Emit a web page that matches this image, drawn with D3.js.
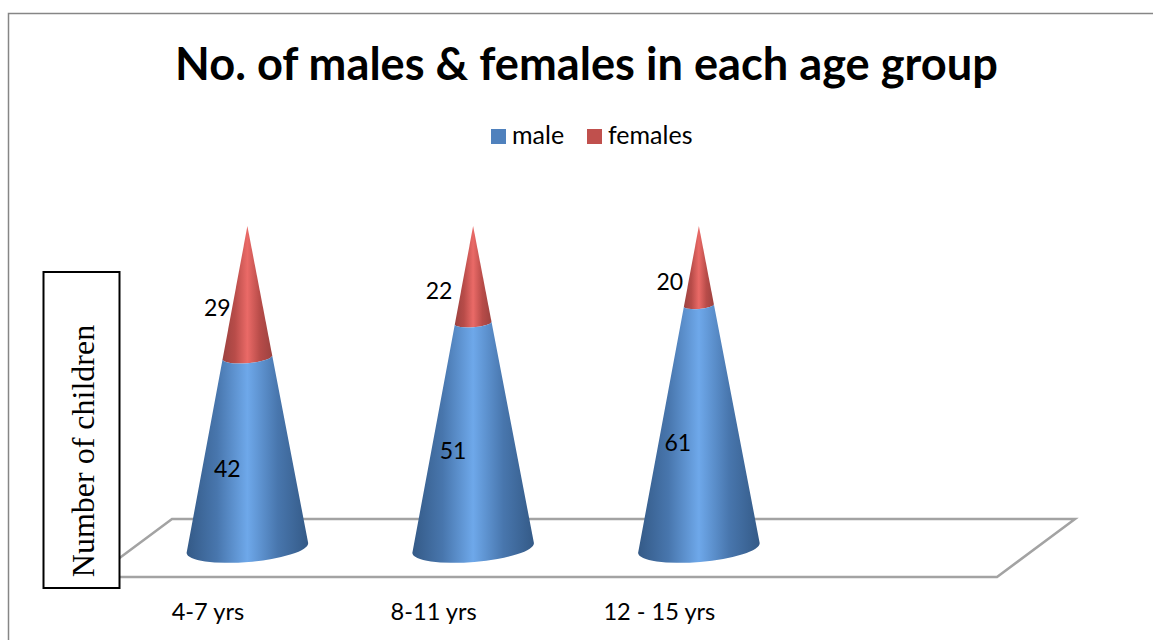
<!DOCTYPE html>
<html><head><meta charset="utf-8">
<script src="https://cdn.jsdelivr.net/npm/d3@7/dist/d3.min.js"></script>
<style>html,body{margin:0;padding:0;background:#fff}svg{display:block}text{font-family:Lato,"Open Sans",sans-serif;fill:#000}</style>
</head><body><div id="chart"></div>
<script>
const titleText = "No. of males & females in each age group";
const yAxisTitle = "Number of children";
const categories = ["4-7 yrs", "8-11 yrs", "12 - 15 yrs", ""];
const maleValues = [42, 51, 61];
const femaleValues = [29, 22, 20];
const seriesNames = ["male", "females"];
const seriesColors = ["#4f81bd", "#c0504d"];
// hand-placed label nudges (px from segment centre) as in the reference
const maleLabelNudge = [[-20, 16], [-20, 15], [-21, 16]];
const femaleLabelNudge = [[-30, 16], [-34, 16], [-29, 16]];

const W = 1153, H = 640, depth = 78, floorH = 58;
const floorFrontY = 577, floorBackY = floorFrontY - floorH, floorLeft = 94, floorRight = 997;
const svg = d3.select("#chart").append("svg").attr("width", W).attr("height", H);
const defs = svg.append("defs");

function shade(id, dark, mid, light) {
  const g = defs.append("linearGradient").attr("id", id).attr("x1", 0).attr("x2", 1).attr("y1", 0).attr("y2", 0);
  [[0, dark], [0.25, mid], [0.5, light], [0.75, mid], [1, dark]].forEach(s =>
    g.append("stop").attr("offset", s[0]).attr("stop-color", s[1]));
}
shade("maleShade", "#345a87", "#4876ad", "#6ea8ea");
shade("femaleShade", "#9c4240", "#b84c49", "#ea6a67");

// frame
svg.append("path").attr("d", `M8.5,${H}V13.5H${W}`).attr("fill", "none").attr("stroke", "#868686").attr("stroke-width", 1.5);

// title + legend
svg.append("text").attr("x", 586.5).attr("y", 80).attr("text-anchor", "middle")
  .attr("font-size", 45.2).attr("font-weight", 700).text(titleText);
const legendX = [491, 587];
seriesNames.forEach((n, i) => {
  svg.append("rect").attr("x", legendX[i]).attr("y", 129).attr("width", 15).attr("height", 15).attr("fill", seriesColors[i]);
  svg.append("text").attr("x", legendX[i] + 21).attr("y", 144).attr("font-size", 25).text(n);
});

// scales
const x = d3.scaleBand().domain(categories).range([floorLeft, floorRight]);
const y = d3.scaleLinear().domain([0, 100]).range([548, 226]);
const baseR = 61, baseRy = 14, tilt = -4.7;

// floor
svg.append("path")
  .attr("d", `M${floorLeft},${floorFrontY}H${floorRight}L${floorRight + depth},${floorBackY}H${floorLeft + depth}Z`)
  .attr("fill", "#fff").attr("stroke", "#a3a3a3").attr("stroke-width", 2.5).attr("stroke-linejoin", "miter");

// cones
const rad = tilt * Math.PI / 180;
function segment(cx, p0, p1) {
  const pt = (p, s) => {
    const r = baseR * (1 - p / 100);
    return [cx + s * r * Math.cos(rad), y(p) + s * r * Math.sin(rad)];
  };
  const arc = (p, to, sweep) => {
    const k = 1 - p / 100;
    const e = pt(p, to);
    return `A${baseR * k},${baseRy * k} ${tilt} 0 ${sweep} ${e[0]},${e[1]}`;
  };
  const a = pt(p0, -1), d = pt(p1, -1), c = pt(p1, 1);
  let path = `M${a}` + arc(p0, 1, 0) + `L${c}`;
  path += p1 >= 100 ? `L${d}` : arc(p1, -1, 1);
  return path + "Z";
}
const rows = categories.slice(0, maleValues.length).map((c, i) => {
  const total = maleValues[i] + femaleValues[i];
  return { c, i, male: maleValues[i], female: femaleValues[i], split: maleValues[i] / total * 100 };
});
const coneX = c => x(c) + x.bandwidth() / 2 + depth / 2 + 1.5;
const cone = svg.selectAll("g.cone").data(rows).join("g").attr("class", "cone");
cone.append("path").attr("d", d => segment(coneX(d.c), d.split, 100)).attr("fill", "url(#femaleShade)");
cone.append("path").attr("d", d => segment(coneX(d.c), 0, d.split)).attr("fill", "url(#maleShade)");

// data labels
cone.append("text").attr("text-anchor", "middle").attr("font-size", 23)
  .attr("x", d => coneX(d.c) + maleLabelNudge[d.i][0])
  .attr("y", d => y(d.split / 2) + maleLabelNudge[d.i][1] + 8).text(d => d.male);
cone.append("text").attr("text-anchor", "middle").attr("font-size", 23)
  .attr("x", d => coneX(d.c) + femaleLabelNudge[d.i][0])
  .attr("y", d => y((d.split + 100) / 2) + femaleLabelNudge[d.i][1] + 8).text(d => d.female);

// category axis
const axis = svg.append("g").attr("transform", `translate(1,${floorFrontY + 27})`)
  .call(d3.axisBottom(x).tickSize(0).tickPadding(0));
axis.select(".domain").remove();
axis.selectAll("text").attr("font-size", 23.6).attr("dy", 0).attr("y", 16).style("font-family", "Lato,sans-serif").attr("fill", "#000");

// y-axis title box
svg.append("rect").attr("x", 43.5).attr("y", 272).attr("width", 76).attr("height", 316)
  .attr("fill", "#fff").attr("stroke", "#000").attr("stroke-width", 2);
svg.append("text").attr("transform", "translate(94,451) rotate(-90)").attr("text-anchor", "middle")
  .style("font-family", "'Liberation Serif',serif").attr("font-size", 32).text(yAxisTitle);
</script></body></html>
